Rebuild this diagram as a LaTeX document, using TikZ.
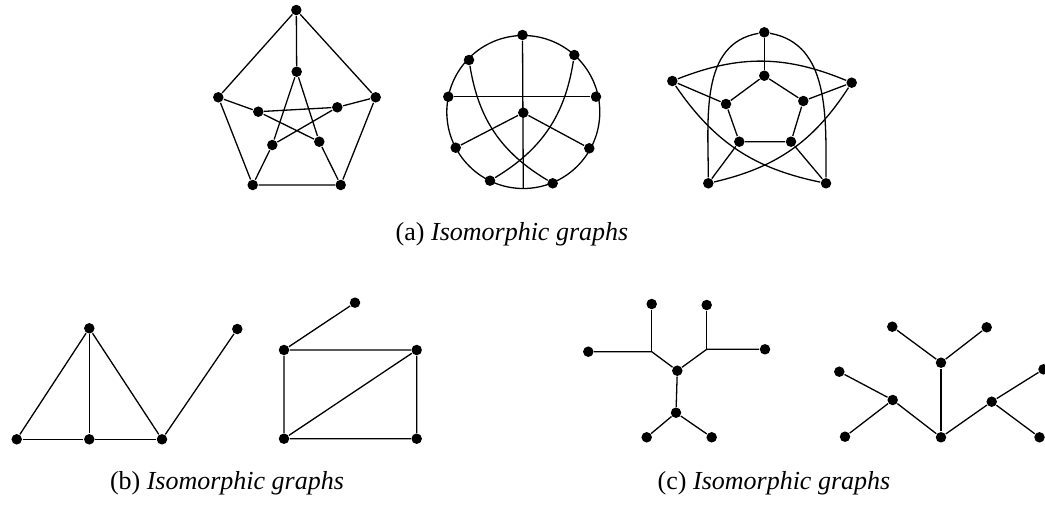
\documentclass[tikz,border=0pt]{standalone}
\usepackage{fontspec}
\setmainfont{Liberation Serif}
\usepackage{tikz}
\usetikzlibrary{positioning,calc}

\begin{document}
\begin{tikzpicture}[x=1pt, y=1pt, line width=1.3pt,
    vtx/.style={circle, fill=black, inner sep=0pt, minimum size=10.5pt},
    captext/.style={anchor=base, font=\fontsize{26}{30}\selectfont}]
    \useasboundingbox (0,0) rectangle (1045,-504);

    % Petersen graph: pentagon and star
    \node[vtx] (aT) at (296.3,-10) {};
    \node[vtx] (aL) at (218.3,-97.3) {};
    \node[vtx] (aR) at (375.7,-97.3) {};
    \node[vtx] (aBL) at (252.7,-185) {};
    \node[vtx] (aBR) at (340.7,-185) {};
    \node[vtx] (aiT) at (296.7,-71.7) {};
    \node[vtx] (aiL) at (258.3,-111.7) {};
    \node[vtx] (aiR) at (337.3,-107.3) {};
    \node[vtx] (aiBL) at (272.3,-145) {};
    \node[vtx] (aiBR) at (319.3,-141.7) {};
    \draw (aT) -- (aL) -- (aBL) -- (aBR) -- (aR) -- (aT);
    \draw (aT) -- (aiT);
    \draw (aL) -- (aiL);
    \draw (aR) -- (aiR);
    \draw (aBL) -- (aiBL);
    \draw (aBR) -- (aiBR);
    \draw (aiT) -- (aiBL) -- (aiR) -- (aiL) -- (aiBR) -- (aiT);

    % Petersen graph: circle drawing
    \coordinate (bO) at (523.3,-112);
    \coordinate (bB) at (523.3,-188.5);
    \draw (bO) circle[radius=76.5];
    \node[vtx] (bT) at (522.5,-35) {};
    \node[vtx] (bUL) at (469,-60) {};
    \node[vtx] (bUR) at (574.3,-55) {};
    \node[vtx] (bL) at (448.3,-96.7) {};
    \node[vtx] (bR) at (596,-96.7) {};
    \node[vtx] (bC) at (523.3,-112.7) {};
    \node[vtx] (bLL) at (455.7,-147.7) {};
    \node[vtx] (bLR) at (589.3,-148.3) {};
    \node[vtx] (bBL) at (490,-180.7) {};
    \node[vtx] (bBR) at (552.7,-183.3) {};
    \draw (bT) -- (bB);
    \draw (bL) -- (bR);
    \draw (bLL) -- (bC) -- (bLR);
    \draw (bUL) to[bend right=25] (bBR);
    \draw (bUR) to[bend left=25] (bBL);

    % Petersen graph: inner pentagon, outer curves
    \node[vtx] (cT) at (764.3,-32.3) {};
    \node[vtx] (cL) at (672.3,-81) {};
    \node[vtx] (cR) at (851.7,-82.7) {};
    \node[vtx] (cBL) at (708.3,-183.3) {};
    \node[vtx] (cBR) at (826,-183.3) {};
    \node[vtx] (ciT) at (764.3,-75.7) {};
    \node[vtx] (ciL) at (726,-104) {};
    \node[vtx] (ciR) at (803.3,-101) {};
    \node[vtx] (ciBL) at (739.3,-141.7) {};
    \node[vtx] (ciBR) at (791,-141.7) {};
    \draw (ciT) -- (ciL) -- (ciBL) -- (ciBR) -- (ciR) -- (ciT);
    \draw (cT) -- (ciT);
    \draw (cL) -- (ciL);
    \draw (cR) -- (ciR);
    \draw (cBL) -- (ciBL);
    \draw (cBR) -- (ciBR);
    \draw (cT) to[out=190, in=90] (cBL);
    \draw (cT) to[out=-10, in=90] (cBR);
    \draw (cL) to[bend left=22] (cR);
    \draw (cL) to[bend right=22] (cBR);
    \draw (cR) to[bend left=22] (cBL);

    \node[captext] (capA) at (512,-240.5) {(a) \textit{Isomorphic graphs}};

    % Triangles with a tail
    \node[vtx] (dT) at (89.3,-328.3) {};
    \node[vtx] (dF) at (237.3,-329) {};
    \node[vtx] (dBL) at (16.7,-439.3) {};
    \node[vtx] (dBM) at (89.3,-439.3) {};
    \node[vtx] (dBR) at (162,-439.3) {};
    \draw (dBL) -- (dT) -- (dBR) -- (dF);
    \draw (dT) -- (dBM);
    \draw (dBL) -- (dBM) -- (dBR);

    % Rectangle with a diagonal and a tail
    \node[vtx] (eT) at (355,-302.7) {};
    \node[vtx] (eUL) at (284,-350) {};
    \node[vtx] (eUR) at (416.7,-350) {};
    \node[vtx] (eLL) at (284,-438.7) {};
    \node[vtx] (eLR) at (416.7,-438.7) {};
    \draw (eT) -- (eUL) -- (eUR) -- (eLR) -- (eLL) -- (eUL);
    \draw (eLL) -- (eUR);

    \node[captext] (capB) at (227,-489) {(b) \textit{Isomorphic graphs}};

    % Tree with bends
    \coordinate (fKL) at (651.7,-351.7);
    \coordinate (fKR) at (706.7,-349.3);
    \node[vtx] (fTL) at (651.7,-304) {};
    \node[vtx] (fTR) at (706.7,-305) {};
    \node[vtx] (fL) at (588.3,-351.7) {};
    \node[vtx] (fR) at (765,-349.3) {};
    \node[vtx] (fC) at (677.3,-370.7) {};
    \node[vtx] (fD) at (676,-412.7) {};
    \node[vtx] (fBL) at (646.7,-437.3) {};
    \node[vtx] (fBR) at (711.7,-437.3) {};
    \draw (fL) -- (fKL) -- (fC) -- (fKR) -- (fR);
    \draw (fTL) -- (fKL);
    \draw (fTR) -- (fKR);
    \draw (fC) -- (fD);
    \draw (fBL) -- (fD) -- (fBR);

    % Tree, drawn upside down
    \node[vtx] (gTL) at (892.3,-326.7) {};
    \node[vtx] (gTR) at (986.7,-327.3) {};
    \node[vtx] (gU) at (941,-362.7) {};
    \node[vtx] (gL) at (839.3,-371.7) {};
    \node[vtx] (gML) at (892.7,-400) {};
    \node[vtx] (gMR) at (991.7,-401.7) {};
    \node[vtx] (gR) at (1043.5,-369.3) {};
    \node[vtx] (gBL) at (845,-436.7) {};
    \node[vtx] (gB) at (941,-437.3) {};
    \node[vtx] (gBR) at (1039.5,-437.3) {};
    \draw (gTL) -- (gU) -- (gTR);
    \draw (gU) -- (gB);
    \draw (gL) -- (gML) -- (gBL);
    \draw (gML) -- (gB) -- (gMR) -- (gR);
    \draw (gMR) -- (gBR);

    \node[captext] (capC) at (774,-489) {(c) \textit{Isomorphic graphs}};
\end{tikzpicture}
\end{document}
